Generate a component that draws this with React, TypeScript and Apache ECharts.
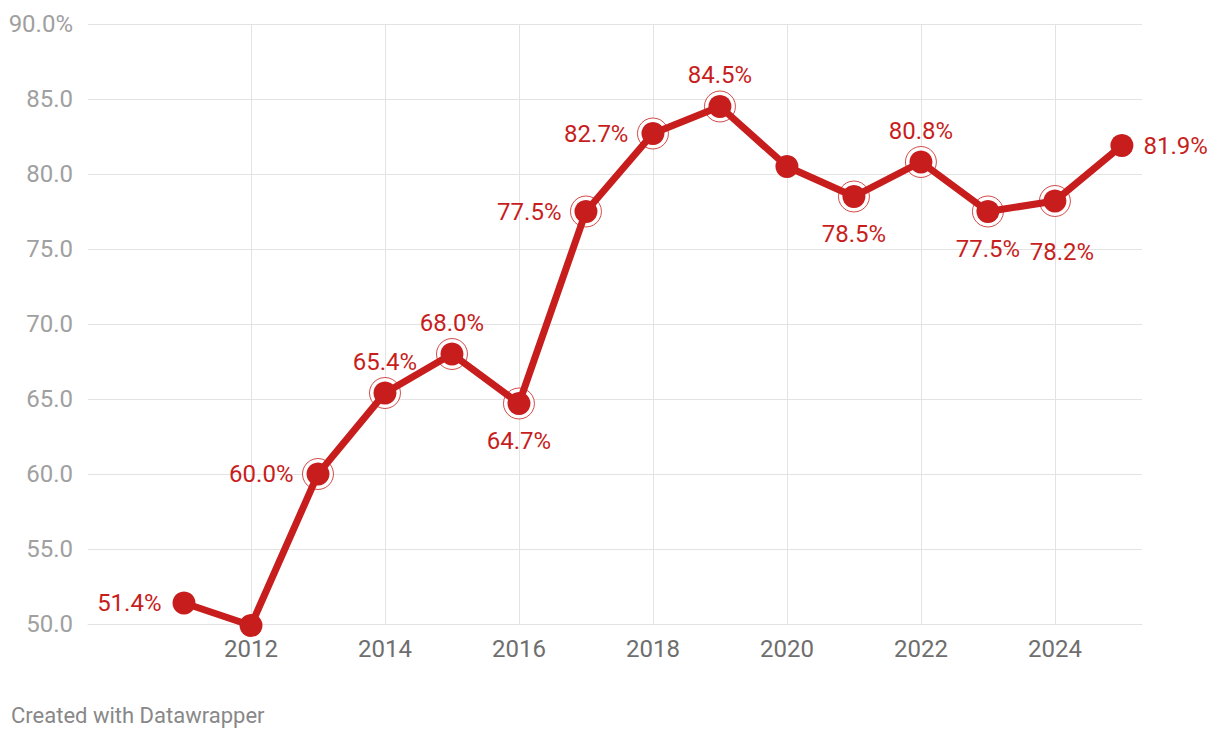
import React, { useEffect, useRef } from "react";
import * as echarts from "echarts";

const years = [2011, 2012, 2013, 2014, 2015, 2016, 2017, 2018, 2019, 2020, 2021, 2022, 2023, 2024, 2025];
const values = [51.4, 49.9, 60.0, 65.4, 68.0, 64.7, 77.5, 82.7, 84.5, 80.5, 78.5, 80.8, 77.5, 78.2, 81.9];
const labelPositions: (string | null)[] = [
  "left", null, "left", "top", "top", "bottom", "left", "left", "top", null, "bottom", "top", "bottom", "bottom", "right",
];
const ringed = [false, false, true, true, true, true, true, true, true, false, true, true, true, true, false];
const xTickYears = [2012, 2014, 2016, 2018, 2020, 2022, 2024];
const yMin = 50;
const yMax = 90;
const yInterval = 5;

const RED = "#c71e1d";
const GRID = "#e3e3e3";
const labelDistance: Record<string, number> = { left: 13, right: 10, top: 8, bottom: 14 };
// label nudges (Datawrapper collision avoidance), by year
const labelNudge: Record<number, [number, number]> = { 2011: [2, 0], 2024: [7, 13] };

export default function App() {
  const ref = useRef<HTMLDivElement>(null);
  useEffect(() => {
    if (!ref.current) return;
    const chart = echarts.init(ref.current, null, { renderer: "svg" });
    const lineData = years.map((y, i) => {
      const pos = labelPositions[i];
      return {
        value: [y, values[i]],
        label: pos
          ? {
              show: true,
              position: pos as any,
              distance: labelDistance[pos],
              offset: labelNudge[y] || [0, 0],
            }
          : { show: false },
      };
    });
    const ringData = years
      .map((y, i) => (ringed[i] ? [y, values[i]] : null))
      .filter((d) => d !== null);
    chart.setOption({
      animation: false,
      textStyle: { fontFamily: "Roboto" },
      grid: { left: 88, right: 78, top: 24, bottom: 116, containLabel: false },
      xAxis: {
        type: "value",
        min: 2009.567,
        max: 2025.3,
        axisLine: { show: true, lineStyle: { color: GRID, width: 1 } },
        axisTick: { show: false, customValues: xTickYears },
        axisLabel: {
          customValues: xTickYears,
          color: "#6e6e6e",
          fontSize: 24,
          margin: 13,
          fontFamily: "Roboto",
          formatter: (v: number) => String(v),
        },
        splitLine: { show: true, lineStyle: { color: GRID, width: 1 } },
      },
      yAxis: {
        type: "value",
        min: yMin,
        max: yMax,
        interval: yInterval,
        axisLine: { show: false },
        axisTick: { show: false },
        axisLabel: {
          color: "#a0a0a0",
          fontSize: 24,
          margin: 15,
          fontFamily: "Roboto",
          formatter: (v: number) => (v === yMax ? v.toFixed(1) + "%" : v.toFixed(1)),
        },
        splitLine: { show: true, lineStyle: { color: GRID, width: 1 } },
      },
      series: [
        {
          type: "scatter",
          z: 1,
          data: ringData,
          symbol: "circle",
          symbolSize: 31,
          clip: false,
          itemStyle: { color: "#ffffff", borderColor: RED, borderWidth: 1 },
          silent: true,
        },
        {
          type: "line",
          z: 2,
          data: lineData,
          symbol: "circle",
          symbolSize: 23,
          showSymbol: true,
          clip: false,
          lineStyle: { color: RED, width: 7 },
          itemStyle: { color: RED },
          label: {
            color: RED,
            fontSize: 24,
            fontFamily: "Roboto",
            formatter: (p: any) => p.value[1].toFixed(1) + "%",
          },
        },
      ],
      graphic: [
        {
          type: "text",
          left: 11,
          top: 704,
          style: {
            text: "Created with Datawrapper",
            fill: "#888888",
            fontSize: 22,
            fontFamily: "Roboto",
          },
        },
      ],
    });
    return () => chart.dispose();
  }, []);
  return (
    <div
      ref={ref}
      style={{ position: "fixed", left: 0, top: 0, width: 1220, height: 740, background: "#fff" }}
    />
  );
}
